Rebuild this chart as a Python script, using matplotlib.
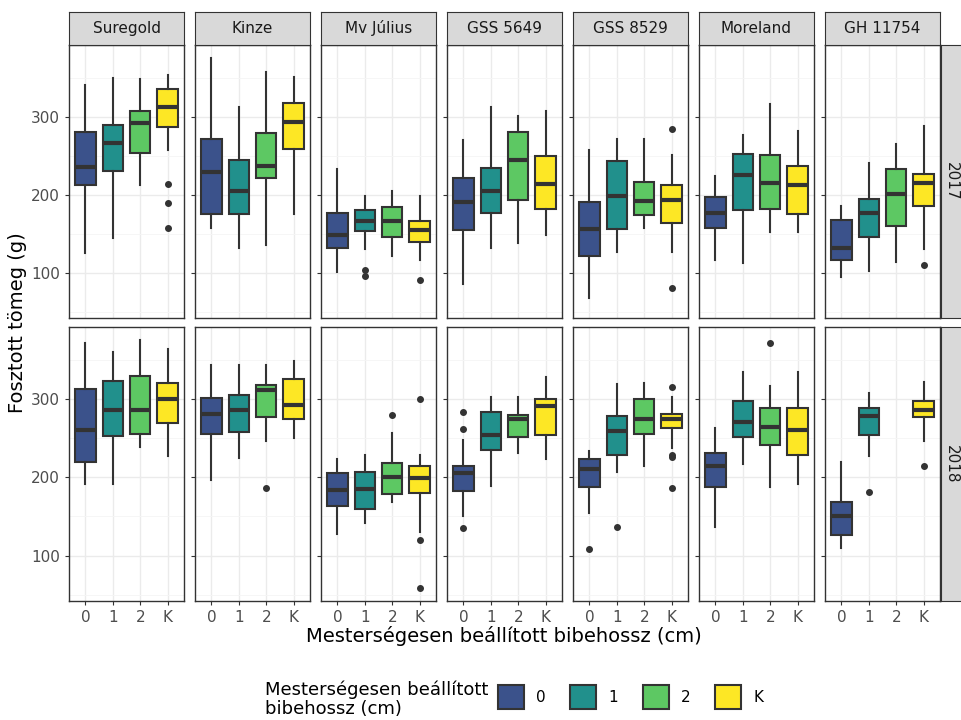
import matplotlib
matplotlib.use("Agg")
import matplotlib.pyplot as plt
from matplotlib.patches import Patch

varieties = ["Suregold", "Kinze", "Mv Július", "GSS 5649", "GSS 8529", "Moreland", "GH 11754"]
years = ["2017", "2018"]
groups = ["0", "1", "2", "K"]
colors = ["#3B528B", "#21908C", "#5DC863", "#FDE725"]

# (whislo, q1, med, q3, whishi, fliers) per group; None = no data
stats_2017 = {
    "Suregold": [(125, 213, 236, 280, 341, []), (145, 231, 266, 289, 350, []),
                 (212, 253, 292, 308, 349, []), (257, 287, 312, 335, 353, [214, 190, 157])],
    "Kinze": [(158, 175, 229, 272, 375, []), (132, 175, 205, 244, 313, []),
              (135, 221, 237, 279, 358, []), (175, 259, 293, 317, 351, [])],
    "Mv Július": [(101, 132, 148, 176, 233, []), (130, 154, 167, 181, 199, [103, 96]),
                  (122, 146, 167, 184, 205, []), (117, 140, 155, 167, 199, [91])],
    "GSS 5649": [(85, 155, 191, 222, 270, []), (132, 176, 205, 234, 313, []),
                 (138, 193, 245, 281, 301, []), (148, 182, 214, 250, 308, [])],
    "GSS 8529": [(68, 122, 156, 191, 257, []), (126, 156, 199, 243, 272, []),
                 (158, 174, 192, 216, 271, []), (126, 164, 193, 212, 251, [284, 80])],
    "Moreland": [(116, 157, 176, 197, 224, []), (112, 181, 225, 252, 277, []),
                 (152, 182, 215, 251, 316, []), (152, 175, 213, 237, 282, [])],
    "GH 11754": [(95, 117, 132, 168, 186, []), (102, 146, 176, 194, 241, []),
                 (114, 160, 201, 233, 265, []), (131, 186, 215, 227, 288, [110])],
}
stats_2018 = {
    "Suregold": [(191, 220, 261, 313, 372, []), (192, 253, 286, 323, 360, []),
                 (239, 255, 286, 329, 376, []), (227, 270, 300, 321, 364, [])],
    "Kinze": [(196, 255, 281, 301, 343, []), (225, 258, 286, 305, 343, []),
              (246, 277, 311, 318, 343, [186]), (250, 274, 292, 325, 349, [])],
    "Mv Július": [(128, 163, 184, 205, 223, []), (142, 159, 185, 207, 229, []),
                  (169, 179, 200, 218, 257, [280]), (130, 180, 199, 215, 229, [300, 120, 58])],
    "GSS 5649": [(150, 183, 205, 215, 248, [284, 262, 135]), (189, 235, 254, 283, 302, []),
                 (231, 251, 274, 280, 302, []), (223, 254, 291, 300, 328, [])],
    "GSS 8529": [(154, 188, 210, 223, 234, [109]), (207, 228, 259, 278, 319, [137]),
                 (215, 255, 274, 300, 321, []), (237, 263, 274, 281, 303, [315, 228, 226, 186])],
    "Moreland": [(137, 188, 214, 231, 263, []), (217, 252, 271, 298, 335, []),
                 (187, 241, 264, 289, 316, [372]), (191, 228, 260, 289, 335, [])],
    "GH 11754": [(110, 126, 151, 168, 219, []), (227, 254, 278, 289, 308, [181]),
                 None, (247, 277, 286, 298, 322, [214])],
}

W, H = 962, 720
fig = plt.figure(figsize=(W / 100, H / 100), dpi=100)
plt.rcParams["font.family"] = "DejaVu Sans"

def rect(x0, y0, x1, y1):
    return [x0 / W, 1 - y1 / H, (x1 - x0) / W, (y1 - y0) / H]

lefts = [69, 195, 321, 447, 573, 699, 825]
pw = 115
rows = [(45, 318), (327, 601)]
edge = "#333333"

for r, (year, data) in enumerate(zip(years, [stats_2017, stats_2018])):
    y0, y1 = rows[r]
    for c, v in enumerate(varieties):
        ax = fig.add_axes(rect(lefts[c], y0, lefts[c] + pw, y1))
        for g, st in enumerate(data[v]):
            if st is None:
                continue
            lo, q1, med, q3, hi, fl = st
            ax.bxp([dict(whislo=lo, q1=q1, med=med, q3=q3, whishi=hi, fliers=fl)],
                   positions=[g + 1], widths=0.75, patch_artist=True, showcaps=False,
                   manage_ticks=False,
                   boxprops=dict(facecolor=colors[g], edgecolor=edge, lw=1.5),
                   whiskerprops=dict(color=edge, lw=1.5),
                   medianprops=dict(color=edge, lw=3),
                   flierprops=dict(marker="o", markerfacecolor=edge, markeredgecolor=edge, markersize=4))
        ax.set_xlim(0.4, 4.6)
        ax.set_ylim(42, 392)
        ax.set_yticks([100, 200, 300])
        ax.set_yticks([50, 150, 250, 350], minor=True)
        ax.set_xticks([1, 2, 3, 4])
        ax.grid(True, which="major", color="#EBEBEB", lw=1.0)
        ax.grid(True, which="minor", axis="y", color="#F5F5F5", lw=0.6)
        ax.set_axisbelow(True)
        for s in ax.spines.values():
            s.set_color(edge)
            s.set_linewidth(1.0)
        ax.tick_params(axis="both", which="both", length=3, color=edge, labelsize=11, labelcolor="#4D4D4D")
        ax.tick_params(which="minor", length=0)
        if c > 0:
            ax.set_yticklabels([])
        if r == 0:
            ax.set_xticklabels([])
            ax.tick_params(axis="x", length=0)
        else:
            ax.set_xticklabels(groups)
        if r == 0:
            sax = fig.add_axes(rect(lefts[c], 12, lefts[c] + pw, 45))
            sax.set_xticks([]); sax.set_yticks([])
            sax.set_facecolor("#D9D9D9")
            for s in sax.spines.values():
                s.set_color(edge)
            sax.text(0.5, 0.5, v, ha="center", va="center", fontsize=11, color="#1A1A1A")
    sax = fig.add_axes(rect(941, y0, 962, y1))
    sax.set_xticks([]); sax.set_yticks([])
    sax.set_facecolor("#D9D9D9")
    for s in sax.spines.values():
        s.set_color(edge)
    sax.text(0.5, 0.5, year, ha="center", va="center", rotation=-90, fontsize=11, color="#1A1A1A")

fig.text(18 / W, 1 - 323 / H, "Fosztott tömeg (g)", rotation=90, ha="center", va="center", fontsize=14)
fig.text(504 / W, 1 - 636 / H, "Mesterségesen beállított bibehossz (cm)", ha="center", va="center", fontsize=14)

fig.text(265 / W, 1 - 699 / H, "Mesterségesen beállított\nbibehossz (cm)", ha="left", va="center",
         fontsize=13, linespacing=1.1)
handles = [Patch(facecolor=col, edgecolor=edge, lw=1.5) for col in colors]
fig.legend(handles, groups, loc="center left", bbox_to_anchor=(492 / W, 1 - 697 / H),
           ncol=4, frameon=False, fontsize=11, handlelength=1.7, handleheight=2.0,
           columnspacing=1.6, handletextpad=0.8, borderaxespad=0)

fig.savefig("out.png", dpi=100, facecolor="white")
